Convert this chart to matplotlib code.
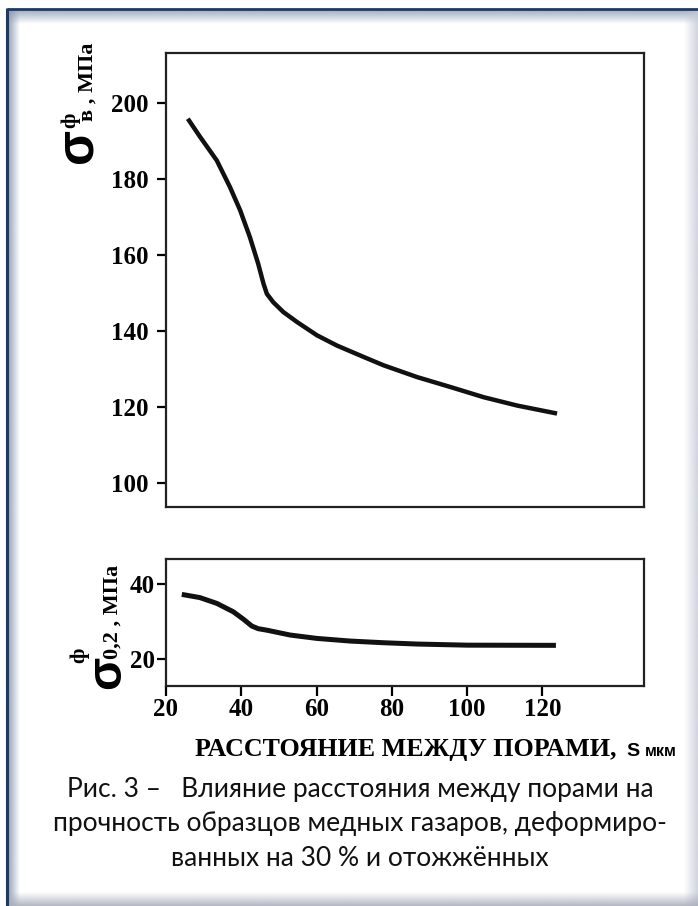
import matplotlib

matplotlib.use("Agg")
import matplotlib.pyplot as plt
import numpy as np
from matplotlib.colors import to_rgb

# ---- data: strength vs distance between pores S (um)
S_UTS = [25.8, 29.0, 33.5, 35.2, 37.0, 39.7, 42.3, 44.5, 45.9, 46.8, 48.5,
         51.2, 54.8, 60.1, 65.4, 72.5, 77.8, 86.7, 95.5, 104.4, 113.3, 123.9]
UTS = [195.9, 191.2, 184.9, 181.5, 177.9, 171.8, 164.7, 157.7, 152.5, 149.8,
       147.6, 145.0, 142.4, 138.9, 136.2, 133.2, 131.0, 127.9, 125.3, 122.6,
       120.4, 118.3]

S_YS = [24.2, 29.0, 33.5, 37.9, 40.6, 42.8, 44.5, 46.8, 53.0, 60.1, 68.9,
        77.8, 86.7, 100.0, 123.6]
YS = [37.25, 36.4, 34.85, 32.6, 30.6, 28.8, 28.1, 27.7, 26.4, 25.5, 24.8,
      24.35, 24.0, 23.7, 23.65]

UTS_TICKS = [100, 120, 140, 160, 180, 200]
YS_TICKS = [20, 40]
S_TICKS = [20, 40, 60, 80, 100, 120]

CAPTION = ["Рис. 3 –   Влияние расстояния между порами на",
           "прочность образцов медных газаров, деформиро-",
           "ванных на 30 % и отожжённых"]

W, H = 698, 906
SERIF = "Liberation Serif"
SANS = "Liberation Sans"

fig = plt.figure(figsize=(W / 100, H / 100), dpi=100)


def fx(px):
    return px / W


def fy(py):
    return 1 - py / H


# ---- slide frame (navy edge + soft inner shadow)
bg = fig.add_axes([0, 0, 1, 1], zorder=-10)


def shade(x0, x1, y0, y1, color, a0, a1, horizontal=True):
    n = 64
    rgba = np.zeros((1, n, 4) if horizontal else (n, 1, 4))
    rgba[..., :3] = to_rgb(color)
    rgba[..., 3] = np.linspace(a0, a1, n).reshape(rgba.shape[:2])
    bg.imshow(rgba, extent=(x0, x1, y1, y0), aspect="auto",
              interpolation="bilinear", origin="upper")


shade(8, 20, 9, H, "#8a9ab4", 0.9, 0.0, horizontal=True)
shade(8, W, 10, 24, "#8a9ab4", 0.8, 0.0, horizontal=False)
shade(684, W, 9, H, "#c4cad6", 0.0, 0.8, horizontal=True)
shade(8, W, 892, H, "#a8afbc", 0.0, 0.9, horizontal=False)
bg.plot([7, 7], [8, H], color="#1e3a64", lw=2.2, solid_capstyle="butt")
bg.plot([7, W], [9, 9], color="#1e3a64", lw=2.0, solid_capstyle="butt")
bg.set_xlim(0, W)
bg.set_ylim(H, 0)
bg.axis("off")

# ---- panels
ax1 = fig.add_axes([fx(166), fy(507), (644 - 166) / W, (507 - 53) / H])
ax2 = fig.add_axes([fx(166), fy(686), (644 - 166) / W, (686 - 559) / H])

ax1.plot(S_UTS, UTS, color="#111111", lw=3.2, solid_capstyle="butt",
         solid_joinstyle="round")
ax2.plot(S_YS, YS, color="#111111", lw=3.6, solid_capstyle="butt",
         solid_joinstyle="round")

for ax in (ax1, ax2):
    ax.set_xlim(20, 147)
    for sp in ax.spines.values():
        sp.set_linewidth(1.6)
        sp.set_color("#222222")
ax1.set_ylim(93.7, 213.2)
ax2.set_ylim(12.8, 46.7)

ax1.set_yticks(UTS_TICKS)
ax1.set_xticks([])
ax2.set_yticks(YS_TICKS)
ax2.set_xticks(S_TICKS)
ax1.tick_params(axis="y", direction="out", length=6.5, width=1.6, pad=6,
                labelsize=18)
ax2.tick_params(axis="y", direction="out", length=6.5, width=1.6, pad=1.5,
                labelsize=18)
ax2.tick_params(axis="x", direction="out", length=7, width=1.6, pad=1.5,
                labelsize=18)
for lab in ax1.get_yticklabels() + ax2.get_yticklabels() + ax2.get_xticklabels():
    lab.set_fontfamily(SERIF)
    lab.set_fontweight("bold")

# ---- y labels: sigma with superscript/subscript, rotated
rot = dict(rotation=90, rotation_mode="anchor", ha="left", va="baseline")
fig.text(fx(92), fy(163), "σ", fontsize=37, fontweight="bold",
         family=SANS, **rot)
fig.text(fx(75), fy(128), "ф", fontsize=16, fontweight="bold",
         family=SERIF, **rot)
fig.text(fx(93), fy(121), "в , МПа", fontsize=16, fontweight="bold",
         family=SERIF, **rot)

fig.text(fx(120), fy(689), "σ", fontsize=35, fontweight="bold",
         family=SANS, **rot)
fig.text(fx(84), fy(663), "ф", fontsize=16, fontweight="bold",
         family=SERIF, **rot)
fig.text(fx(118), fy(659), "0,2 , МПа", fontsize=16, fontweight="bold",
         family=SERIF, **rot)

# ---- x label
fig.text(fx(195), fy(756), "РАССТОЯНИЕ МЕЖДУ ПОРАМИ,", fontsize=18.7,
         fontweight="bold", family=SERIF, ha="left", va="baseline")
fig.text(fx(626), fy(756), "S", fontsize=14, fontweight="bold",
         family=SANS, ha="left", va="baseline")
fig.text(fx(645), fy(756), "мкм", fontsize=11.5, fontweight="bold",
         family=SANS, ha="left", va="baseline")

# ---- caption
for i, line in enumerate(CAPTION):
    fig.text(fx(360), fy(797 + 34.5 * i), line, fontsize=19, family="Lato",
             ha="center", va="baseline", color="#111111")

fig.savefig("out.png", dpi=100)
